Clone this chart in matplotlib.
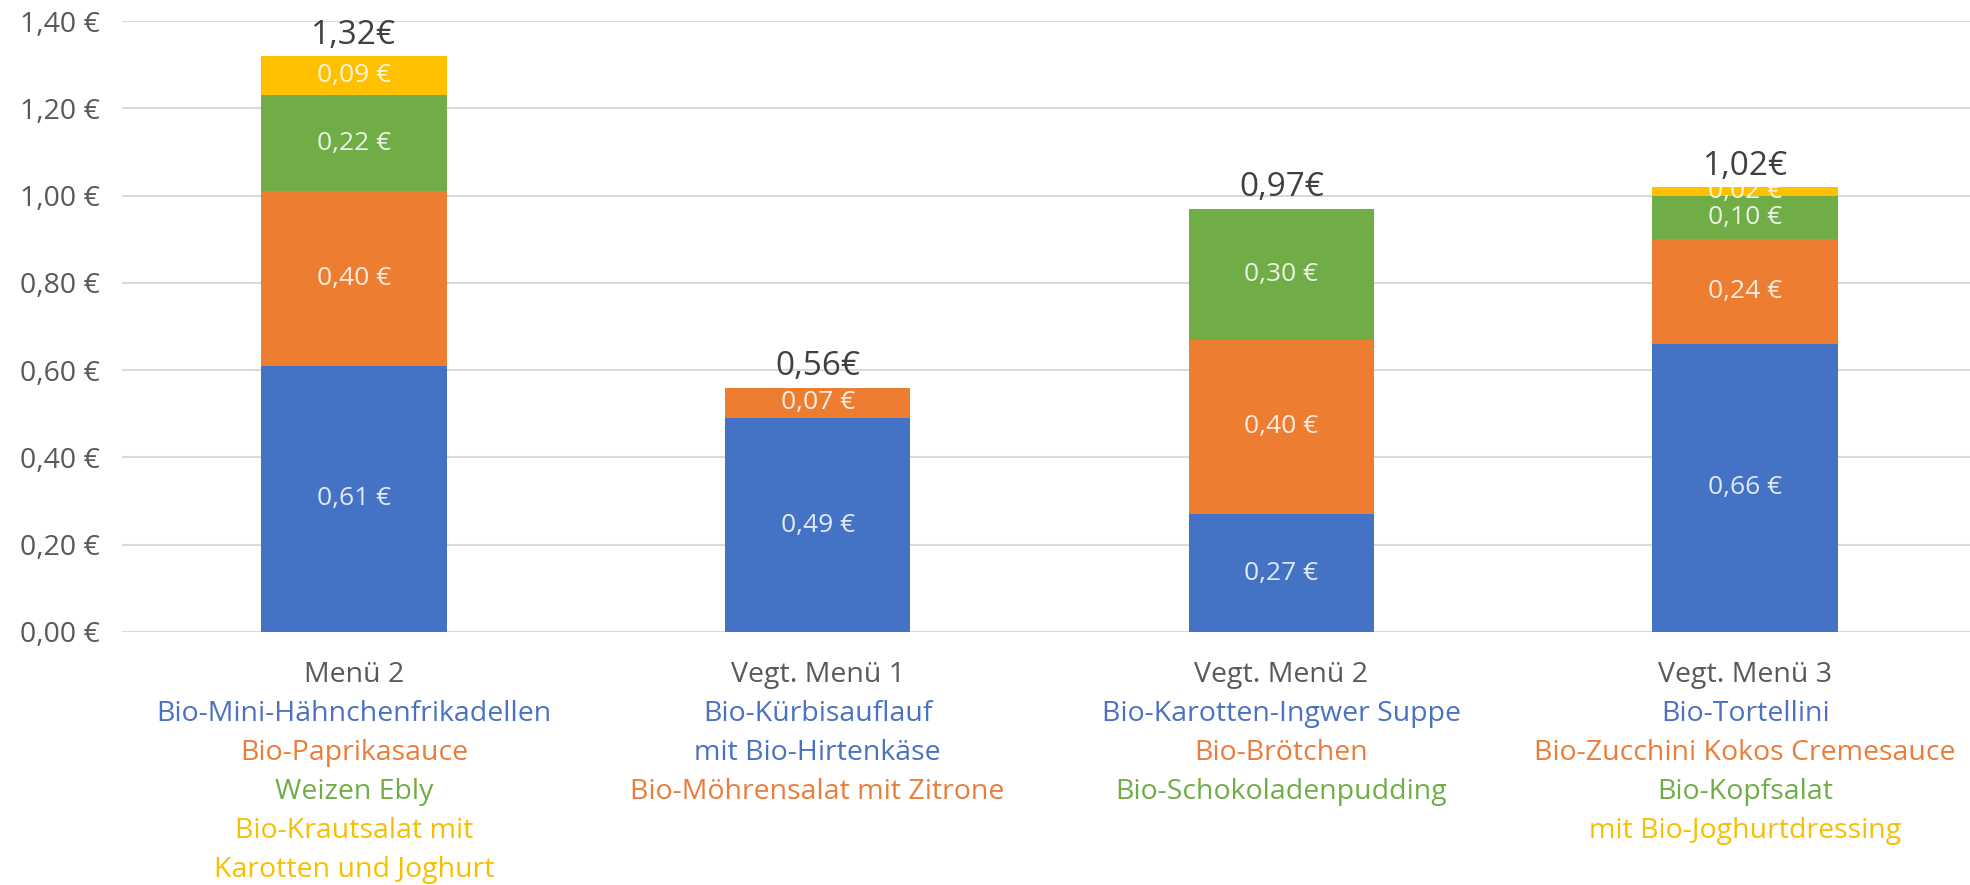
import numpy as np
import matplotlib.pyplot as plt
import matplotlib.transforms as mtransforms

plt.rcParams['font.family'] = ['Open Sans', 'DejaVu Sans']

# data
menus = ['Menü 2', 'Vegt. Menü 1', 'Vegt. Menü 2', 'Vegt. Menü 3']
blue_vals = [0.61, 0.49, 0.27, 0.66]
orange_vals = [0.40, 0.07, 0.40, 0.24]
green_vals = [0.22, 0.00, 0.30, 0.10]
yellow_vals = [0.09, 0.00, 0.00, 0.02]
totals = [1.32, 0.56, 0.97, 1.02]

# dish names under each menu, with the colour of the matching segment
dishes = [
    [('Bio-Mini-Hähnchenfrikadellen', 'blue'),
     ('Bio-Paprikasauce', 'orange'),
     ('Weizen Ebly', 'green'),
     ('Bio-Krautsalat mit', 'yellow'),
     ('Karotten und Joghurt', 'yellow')],
    [('Bio-Kürbisauflauf', 'blue'),
     ('mit Bio-Hirtenkäse', 'blue'),
     ('Bio-Möhrensalat mit Zitrone', 'orange')],
    [('Bio-Karotten-Ingwer Suppe', 'blue'),
     ('Bio-Brötchen', 'orange'),
     ('Bio-Schokoladenpudding', 'green')],
    [('Bio-Tortellini', 'blue'),
     ('Bio-Zucchini Kokos Cremesauce', 'orange'),
     ('Bio-Kopfsalat', 'green'),
     ('mit Bio-Joghurtdressing', 'yellow')],
]

colors = {'blue': '#4472C4', 'orange': '#ED7D31',
          'green': '#70AD47', 'yellow': '#FFC000'}
text_colors = {'blue': '#4A72C0', 'orange': '#EA7D3A',
               'green': '#70AD47', 'yellow': '#F5C000'}


def euro(v, space=True):
    s = f'{v:.2f}'.replace('.', ',')
    return s + (' €' if space else '€')


def main():
    W, H = 1970, 885
    fig = plt.figure(figsize=(W / 100, H / 100), dpi=100)
    ax = fig.add_axes([122 / W, 1 - 632 / H, 1855 / W, 611 / H])

    x = np.arange(len(menus))
    bottom = np.zeros(len(menus))
    series = [('blue', blue_vals), ('orange', orange_vals),
              ('green', green_vals), ('yellow', yellow_vals)]
    for key, vals in series:
        vals = np.array(vals)
        ax.bar(x, vals, width=0.4, bottom=bottom, color=colors[key],
               zorder=2)
        for xi, b, v in zip(x, bottom, vals):
            if v > 0:
                ax.text(xi, b + v / 2, euro(v), ha='center', va='center',
                        color='white', alpha=0.85, fontsize=19, zorder=3)
        bottom = bottom + vals

    for xi, t in zip(x, totals):
        ax.annotate(euro(t, space=False), (xi, t), xytext=(0, 15),
                    textcoords='offset points', ha='center', va='center',
                    fontsize=24, color='#404040')

    ax.set_xlim(-0.5, 3.5)
    ax.set_ylim(0, 1.40)
    yticks = np.arange(0, 1.41, 0.2)
    ax.set_yticks(yticks)
    ax.set_yticklabels([euro(v) for v in yticks])
    ax.tick_params(axis='y', length=0, pad=16, labelsize=20.5,
                   labelcolor='#595959')
    ax.set_xticks([])
    ax.grid(axis='y', color='#D9D9D9', linewidth=1.5, zorder=0)
    ax.set_axisbelow(True)
    for s in ax.spines.values():
        s.set_visible(False)

    # category labels, one line at a time
    trans = mtransforms.blended_transform_factory(ax.transData,
                                                  fig.transFigure)
    for xi, name, lines in zip(x, menus, dishes):
        fig.text(xi, 1 - 675 / H, name, transform=trans, ha='center',
                 va='center', fontsize=20.5, color='#595959')
        for i, (txt, key) in enumerate(lines):
            y = 675 + 39 * (i + 1)
            fig.text(xi, 1 - y / H, txt, transform=trans, ha='center',
                     va='center', fontsize=20.5, color=text_colors[key])

    fig.savefig('out.png', dpi=100)


if __name__ == "__main__":
    main()
